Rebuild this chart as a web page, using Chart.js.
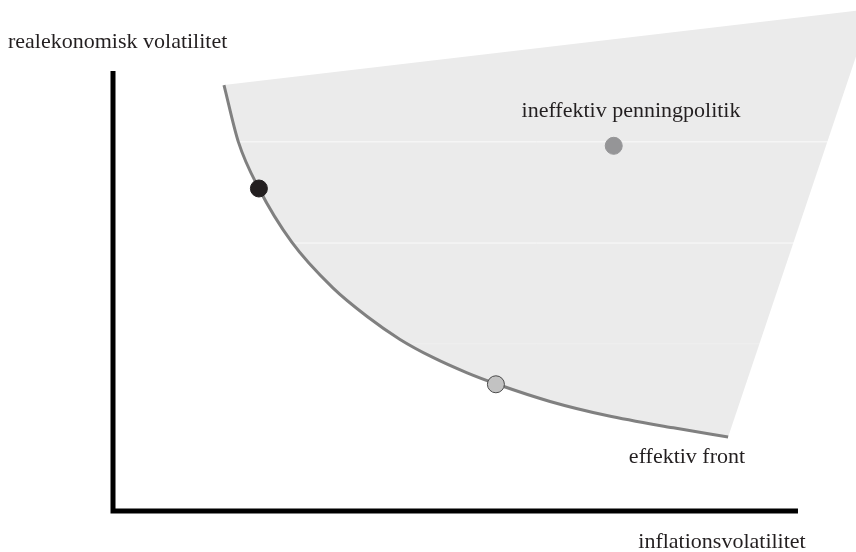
<!DOCTYPE html>
<html>
<head>
<meta charset="utf-8">
<script src="https://cdn.jsdelivr.net/npm/chart.js@4.4.1/dist/chart.umd.min.js"></script>
<style>
html, body { margin: 0; padding: 0; background: #fff; }
#wrap { width: 856px; height: 552px; }
</style>
</head>
<body>
<div id="wrap"><canvas id="frontChart"></canvas></div>
<script>
// effektiv front (inflationsvolatilitet, realekonomisk volatilitet)
var frontX = [1.62, 1.83, 2.13, 2.61, 3.21, 3.71, 4.19, 4.67, 5.17, 5.61, 6.38, 7.21, 8.18, 8.98];
var frontY = [9.68, 8.39, 7.33, 6.11, 5.07, 4.42, 3.90, 3.49, 3.14, 2.88, 2.49, 2.17, 1.89, 1.68];
// the far corner of the shaded region (ineffektiv penningpolitik)
var cornerX = [11.08];
var cornerY = [11.41];
// policy points: on the front (two) and inside the region (one)
var pointX = [2.13, 5.59, 7.31];
var pointY = [7.33, 2.88, 8.30];
var pointFill = ['#231f20', '#c2c2c2', '#959597'];
var pointEdge = ['#231f20', '#4a4a4a', '#959597'];
// faint horizontal guide lines across the region
var guideY = [8.39, 6.09, 3.80];
var guideX = [1.5, 12];
// where the two drawn axes end
var axisEndX = 10;
var axisEndY = 10;

function pairs(xs, ys) {
    var out = [];
    for (var i = 0; i < xs.length; i++) out.push({x: xs[i], y: ys[i]});
    return out;
}

var curve = pairs(frontX, frontY);
var region = curve.concat(pairs(cornerX, cornerY), [curve[0]]);

var datasets = [];
datasets.push({
    data: pairs(pointX, pointY),
    showLine: false,
    pointRadius: 8.5,
    pointBackgroundColor: pointFill,
    pointBorderColor: pointEdge,
    pointBorderWidth: 1,
    clip: false,
    order: 1
});
datasets.push({
    data: curve,
    borderColor: '#808080',
    borderWidth: 3,
    pointRadius: 0,
    cubicInterpolationMode: 'monotone',
    fill: false,
    clip: false,
    order: 2
});
guideY.forEach(function(gy, i) {
    datasets.push({
        data: pairs(guideX, [gy, gy]),
        borderColor: i < 2 ? 'rgba(255,255,255,0.75)' : 'rgba(255,255,255,0.25)',
        borderWidth: 1,
        pointRadius: 0,
        fill: false,
        clip: false,
        order: 3
    });
});
datasets.push({
    data: region,
    borderWidth: 0,
    borderColor: 'rgba(0,0,0,0)',
    backgroundColor: '#ebebeb',
    pointRadius: 0,
    tension: 0,
    fill: 'shape',
    clip: false,
    order: 4
});

// L-shaped axes
var axes = {
    id: 'axes',
    afterDatasetsDraw: function(chart) {
        var ctx = chart.ctx, xs = chart.scales.x, ys = chart.scales.y;
        var x0 = xs.getPixelForValue(0), y0 = ys.getPixelForValue(0);
        ctx.save();
        ctx.strokeStyle = '#000';
        ctx.lineWidth = 5;
        ctx.lineCap = 'butt';
        ctx.beginPath();
        ctx.moveTo(x0, ys.getPixelForValue(axisEndY));
        ctx.lineTo(x0, y0 + 2.5);
        ctx.moveTo(x0 - 2.5, y0);
        ctx.lineTo(xs.getPixelForValue(axisEndX), y0);
        ctx.stroke();
        ctx.restore();
    }
};

var labels = {
    id: 'labels',
    afterDraw: function(chart) {
        var ctx = chart.ctx;
        ctx.save();
        ctx.fillStyle = '#231f20';
        ctx.font = '22px "Liberation Serif", "Times New Roman", serif';
        ctx.textBaseline = 'alphabetic';
        ctx.textAlign = 'left';
        ctx.fillText('realekonomisk volatilitet', 8, 48);
        ctx.textAlign = 'center';
        ctx.fillText('ineffektiv penningpolitik', 631, 117);
        ctx.fillText('effektiv front', 687, 463);
        ctx.fillText('inflationsvolatilitet', 722, 548);
        ctx.restore();
    }
};

new Chart(document.getElementById('frontChart'), {
    type: 'line',
    data: { datasets: datasets },
    options: {
        responsive: true,
        maintainAspectRatio: false,
        animation: false,
        layout: { autoPadding: false, padding: { left: 113, right: 0, top: 0, bottom: 41 } },
        plugins: { legend: { display: false }, tooltip: { enabled: false } },
        scales: {
            x: {
                type: 'linear', min: 0, max: 10.847,
                display: false
            },
            y: {
                type: 'linear', min: 0, max: 11.614,
                display: false
            }
        }
    },
    plugins: [axes, labels]
});
</script>
</body>
</html>
